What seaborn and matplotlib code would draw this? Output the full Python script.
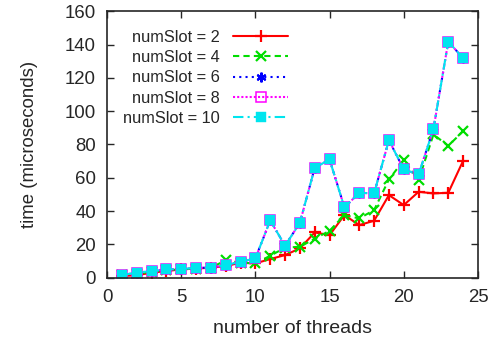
import matplotlib
matplotlib.use("Agg")
import matplotlib.pyplot as plt
import seaborn as sns
import pandas as pd

threads = list(range(1, 25))
slot2 = [1, 1.5, 3, 4, 5, 5.5, 6, 7, 9, 8.6, 11.2, 13.6, 17.6, 27.2, 25.6, 37.6, 31.6, 34.2, 49.6, 43.6, 51.6, 50.6, 51, 70.2]
slot4 = [1.5, 2.5, 3.5, 4.5, 5, 5.5, 6, 10.4, 9, 8.6, 13.2, 18, 18.6, 23.4, 28.2, 37.6, 35.6, 40.6, 59, 70.6, 58.6, 86, 79.2, 88]
slot6 = [1.6, 3, 4, 5, 5.2, 6, 6, 7.6, 9.6, 11.6, 34.4, 19.2, 33, 66, 71, 42.2, 51, 50.6, 82.6, 65, 62, 89.2, 141.8, 131.8]
slot8 = [1.6, 3, 4, 5, 5.2, 6, 6, 7.6, 9.6, 11.6, 34.4, 19.2, 33, 66, 71, 42.2, 51, 50.6, 82.6, 65, 62, 89.2, 141.8, 131.8]
slot10 = [1.6, 3, 4, 5, 5.2, 6, 6, 7.6, 9.6, 11.6, 34.4, 19.2, 33, 66, 71, 42.2, 51, 50.6, 82.6, 65, 62, 89.2, 141.8, 131.8]
labels = ["numSlot = 2", "numSlot = 4", "numSlot = 6", "numSlot = 8", "numSlot = 10"]
xticks = [0, 5, 10, 15, 20, 25]
yticks = [0, 20, 40, 60, 80, 100, 120, 140, 160]

sns.set_style("ticks")
plt.rcParams['font.family'] = ['Liberation Sans', 'DejaVu Sans']
FS = 13.4
plt.rcParams['font.size'] = FS

fig = plt.figure(figsize=(5.01, 3.41), dpi=100)
ax = fig.add_axes([0.2136, 0.1856, 0.7404, 0.7814])

styles = [
    dict(color="#ff0000", marker="+", linestyle="-", markersize=9, markeredgewidth=1.6, markeredgecolor="#ff0000"),
    dict(color="#00dd00", marker="x", linestyle=(0, (3, 2)), markersize=7.5, markeredgewidth=1.6, markeredgecolor="#00dd00"),
    dict(color="#0000ff", marker=(6, 2, 0), linestyle=(0, (1, 2)), markersize=7, markeredgewidth=1.5, markeredgecolor="#0000ff"),
    dict(color="#ff00ff", marker="s", linestyle=(0, (1, 1)), markersize=7.8, markerfacecolor="none", markeredgewidth=1.1, markeredgecolor="#ff00ff"),
    dict(color="#00e5ee", marker="s", linestyle=(0, (5, 2, 1, 2)), markersize=7.2, markeredgecolor="#00e5ee", markeredgewidth=0.3),
]
series = [slot2, slot4, slot6, slot8, slot10]
for vals, lab, st in zip(series, labels, styles):
    df = pd.DataFrame({"threads": threads, "time": vals})
    sns.lineplot(data=df, x="threads", y="time", ax=ax, label=lab, linewidth=1.5, **st)

ax.set_xlim(0, 25)
ax.set_ylim(0, 160)
ax.set_xticks(xticks)
ax.set_yticks(yticks)
ax.tick_params(direction="in", top=True, right=True, length=5, width=1, labelsize=FS, pad=8)
for s in ax.spines.values():
    s.set_linewidth(1.2)
    s.set_visible(True)
ax.set_xlabel("number of threads", fontsize=14, labelpad=10)
ax.set_ylabel("time (microseconds)", fontsize=FS, labelpad=19)

LFS = 11.8
leg = ax.legend(loc="upper right", bbox_to_anchor=(0.488, 0.93), frameon=False, markerfirst=False,
                handlelength=3.35, labelspacing=0.32, fontsize=LFS, borderaxespad=0, handletextpad=0.8,
                borderpad=0)

fig.savefig("out.png", dpi=100)
